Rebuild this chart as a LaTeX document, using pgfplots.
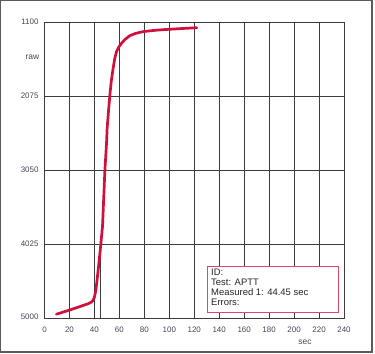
\documentclass[border=0pt]{standalone}
\usepackage{fontspec}
\setmainfont{Liberation Sans}
\usepackage{pgfplots}
\pgfplotsset{compat=1.18}
\definecolor{curvec}{RGB}{208,16,58}
\definecolor{boxc}{RGB}{222,70,110}
\definecolor{gridc}{RGB}{60,60,60}
\definecolor{tickc}{RGB}{70,70,90}
\definecolor{framec}{RGB}{90,90,90}
\begin{document}
\begin{tikzpicture}
\useasboundingbox (0bp,0bp) rectangle (375bp,354bp);
\draw[framec, line width=1.2bp] (0.6bp,2bp) rectangle (372bp,353.4bp);
\begin{axis}[
  at={(44.5bp,36bp)}, anchor=south west,
  scale only axis, width=299.5bp, height=296bp,
  xmin=0, xmax=240, ymin=1100, ymax=5000, y dir=reverse,
  xtick={0,20,...,240}, ytick={1100,2075,3050,4025,5000},
  yticklabels={\raisebox{-3.5bp}{1100},2075,3050,4025,\raisebox{2.5bp}{5000}},
  grid=major, major grid style={gridc, line width=0.8bp},
  axis line style={gridc, line width=0.8bp},
  major tick length=0pt,
  tick label style={font=\fontsize{8}{9}\selectfont, text=tickc},
  /pgf/number format/assume math mode=true,
  /pgf/number format/1000 sep={},
  xticklabel style={yshift=-5.4bp},
  yticklabel style={xshift=-2.5bp},
  clip=false,
]
\addplot[gridc, line width=0.8bp] coordinates {(44.45,5000) (44.45,4140)};
\addplot[curvec, line width=2.7bp, line join=round, line cap=round] coordinates {
(9.5,4950) (15,4922) (20,4895) (25,4868) (30,4840) (35,4812) (37.5,4792)
(39,4765) (40,4725) (41.2,4631) (42.2,4490) (43,4370) (44.45,4140)
(45.2,4016) (46.5,3790) (48.4,3050) (49.7,2698) (50.2,2500) (51.5,2230)
(52.4,2062) (53.5,1880) (55,1710) (56.3,1580) (57.7,1491) (59.5,1430)
(61.7,1381) (64.5,1330) (68.4,1280) (73,1250) (79,1227) (87,1212)
(95,1201) (108,1188) (122,1175)
};
\end{axis}
\draw[boxc, fill=white, line width=0.8bp] (207bp,88bp) rectangle (338bp,42bp);
\begin{scope}[every node/.style={anchor=base west, inner sep=0pt, text=black!85, font=\fontsize{9.5}{10}\selectfont}]
\node at (211bp,78.3bp) {ID:};
\node at (211bp,68.3bp) {Test: APTT};
\node at (211bp,58.3bp) {Measured 1: 44.45 sec};
\node at (211bp,48.3bp) {Errors:};
\end{scope}
\node[anchor=base east, inner sep=0pt, text=tickc, font=\fontsize{8.5}{10}\selectfont] at (39.5bp,294.8bp) {raw};
\node[anchor=base, inner sep=0pt, text=tickc, font=\fontsize{8.5}{10}\selectfont] at (305bp,9.8bp) {sec};
\end{tikzpicture}
\end{document}
